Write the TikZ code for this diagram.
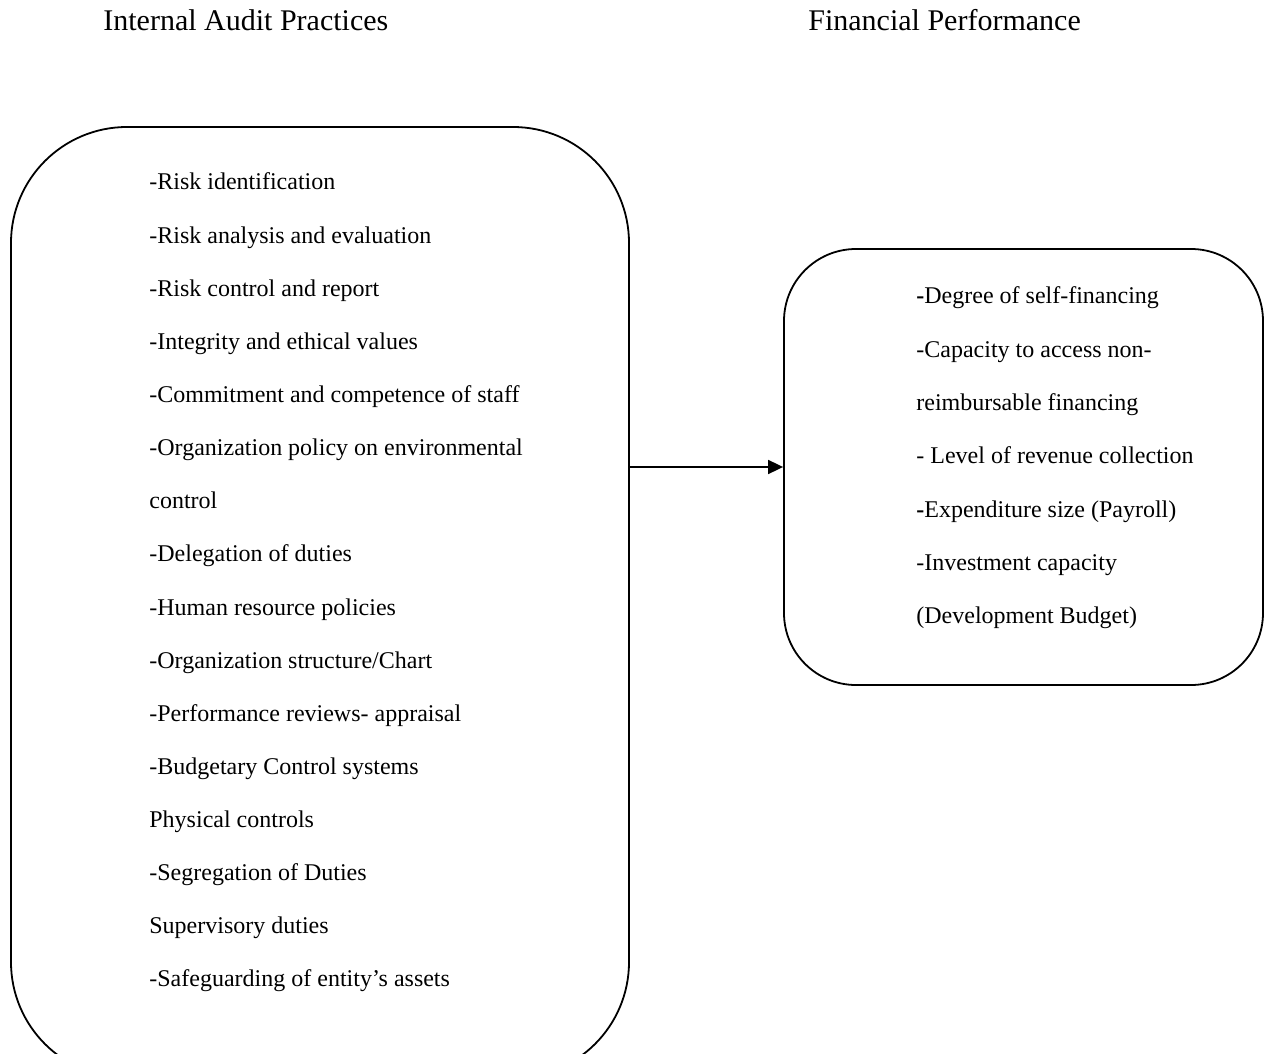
\documentclass[tikz,border=0pt]{standalone}
\usepackage{fontspec}
\setmainfont{Liberation Serif}
\usetikzlibrary{arrows.meta}
\begin{document}
\begin{tikzpicture}[x=0.5pt,y=-0.5pt,
  box/.style={draw, line width=0.9pt, rounded corners=#1, inner sep=0pt},
  title/.style={anchor=base west, inner sep=0pt, font=\fontsize{15pt}{18pt}\selectfont},
  item/.style={anchor=base west, inner sep=0pt, font=\fontsize{12pt}{14pt}\selectfont},
  link/.style={line width=0.9pt, -{Triangle[length=7.5pt,width=7pt]}}]
\clip (0,0) rectangle (1271,1054);
\fill[white] (0,0) rectangle (1271,1054);

\node[title] (t1) at (103,31) {Internal Audit Practices};
\node[title] (t2) at (808,31) {Financial Performance};

\node[box=58pt, minimum width=309pt, minimum height=475.5pt] (left) at (320,602.5) {};
\node[box=36pt, minimum width=239.5pt, minimum height=218pt] (right) at (1023.5,467) {};

\foreach \t [count=\i from 0] in {
  -Risk identification,
  -Risk analysis and evaluation,
  -Risk control and report,
  -Integrity and ethical values,
  -Commitment and competence of staff,
  -Organization policy on environmental,
  control,
  -Delegation of duties,
  -Human resource policies,
  -Organization structure/Chart,
  -Performance reviews- appraisal,
  -Budgetary Control systems,
  Physical controls,
  -Segregation of Duties,
  Supervisory duties,
  -Safeguarding of entity’s assets}
  \node[item] (l\i) at (149,190+53.13*\i) {\t};

\node[item] (r0) at (916,304) {\textbf{-}Degree of self-financing};
\node[item] (r1) at (916,357.3) {-Capacity to access non-};
\node[item] (r2) at (916,410.6) {reimbursable financing};
\node[item] (r3) at (916,463.9) {- Level of revenue collection};
\node[item] (r4) at (916,517.2) {\textbf{-}Expenditure size (Payroll)};
\node[item] (r5) at (916,570.5) {-Investment capacity};
\node[item] (r6) at (916,623.8) {(Development Budget)};

\draw[link] (left.east |- right.west) -- (right.west);
\end{tikzpicture}
\end{document}
